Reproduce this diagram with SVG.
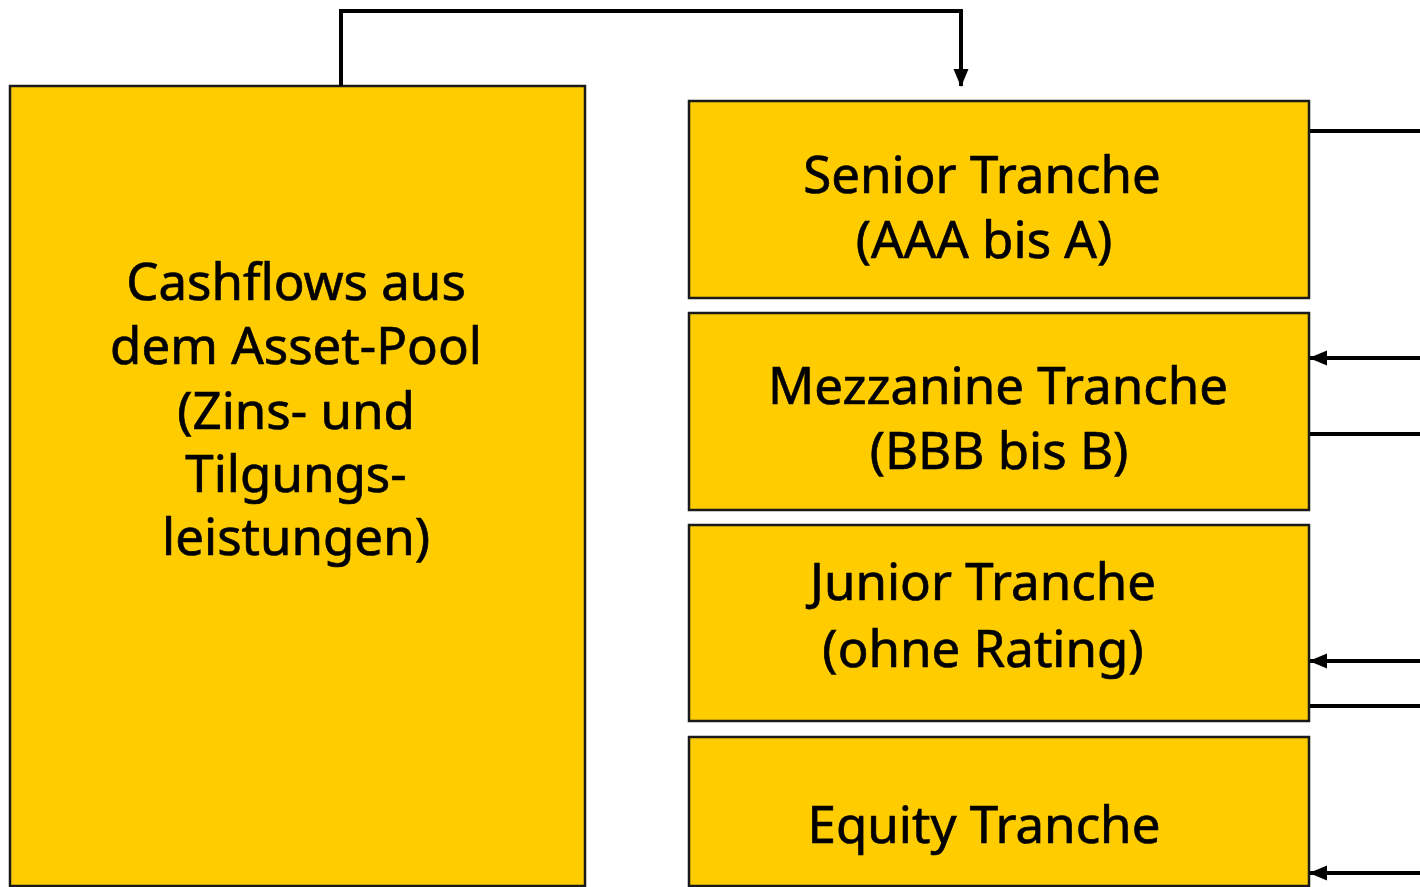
<svg xmlns="http://www.w3.org/2000/svg" width="1420" height="887" viewBox="0 0 1420 887">
<style>
.box{fill:#FFCC00;stroke:#1a1a1a;stroke-width:2.5}
.t{font-family:"Noto Sans","Open Sans","Liberation Sans",sans-serif;font-size:51px;fill:#000;stroke:#000;stroke-width:0.7;text-anchor:middle}
.c{fill:none;stroke:#000;stroke-width:4}
</style>
<defs>
<marker id="arr" markerUnits="userSpaceOnUse" markerWidth="18" markerHeight="18" viewBox="0 0 18 18" refX="17" refY="9" orient="auto">
<path d="M0,1.5 L18,9 L0,16.5 Z" fill="#000"/>
</marker>
</defs>
<rect width="1420" height="887" fill="#fff"/>
<g id="pool">
<rect class="box" x="10" y="86" width="575" height="800"/>
<text class="t" x="296" y="300">Cashflows aus</text>
<text class="t" x="296" y="364">dem Asset-Pool</text>
<text class="t" x="296" y="429">(Zins- und</text>
<text class="t" x="296" y="492">Tilgungs-</text>
<text class="t" x="296" y="555">leistungen)</text>
</g>
<g id="senior">
<rect class="box" x="689" y="101" width="620" height="197"/>
<text class="t" x="982" y="193">Senior Tranche</text>
<text class="t" x="984" y="258">(AAA bis A)</text>
</g>
<g id="mezzanine">
<rect class="box" x="689" y="313" width="620" height="197"/>
<text class="t" x="998" y="404">Mezzanine Tranche</text>
<text class="t" x="999" y="469">(BBB bis B)</text>
</g>
<g id="junior">
<rect class="box" x="689" y="525" width="620" height="196"/>
<text class="t" x="983" y="600">Junior Tranche</text>
<text class="t" x="983" y="667">(ohne Rating)</text>
</g>
<g id="equity">
<rect class="box" x="689" y="737" width="620" height="149"/>
<text class="t" x="984" y="843">Equity Tranche</text>
</g>
<g id="connectors">
<path class="c" d="M341,86 V11 H961 V86" marker-end="url(#arr)"/>
<path class="c" d="M1310,131 H1420"/>
<path class="c" d="M1420,358 H1310" marker-end="url(#arr)"/>
<path class="c" d="M1310,434 H1420"/>
<path class="c" d="M1420,661 H1310" marker-end="url(#arr)"/>
<path class="c" d="M1310,706 H1420"/>
<path class="c" d="M1420,873 H1310" marker-end="url(#arr)"/>
</g>
</svg>
